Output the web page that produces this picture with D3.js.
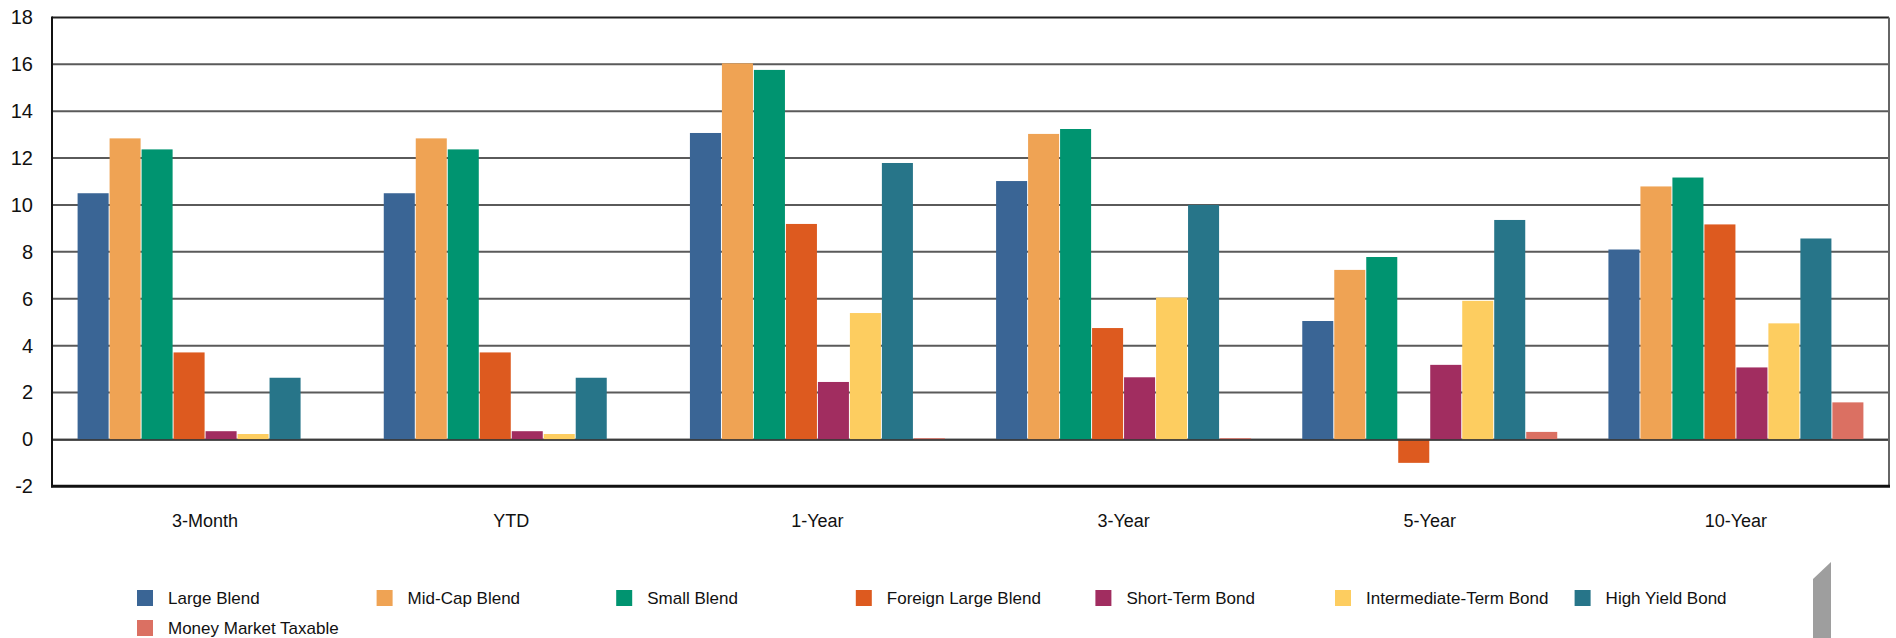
<!DOCTYPE html>
<html>
<head>
<meta charset="utf-8">
<script src="https://cdn.jsdelivr.net/npm/d3@7"></script>
<style>
  html, body { margin: 0; padding: 0; background: #fff; }
  svg text { font-family: "Liberation Sans", Arial, sans-serif; fill: #111; }
</style>
</head>
<body>
<div id="chart"></div>
<script>
const periods = ["3-Month", "YTD", "1-Year", "3-Year", "5-Year", "10-Year"];
const seriesNames = ["Large Blend", "Mid-Cap Blend", "Small Blend", "Foreign Large Blend",
  "Short-Term Bond", "Intermediate-Term Bond", "High Yield Bond", "Money Market Taxable"];
const colors = ["#3a6595", "#efa354", "#009470", "#dd5a1f", "#a12d60", "#fdcd60", "#277589", "#db7062"];

const largeBlend   = [10.50, 10.50, 13.07, 11.02, 5.05, 8.10];
const midCapBlend  = [12.84, 12.84, 16.04, 13.03, 7.23, 10.79];
const smallBlend   = [12.37, 12.37, 15.76, 13.24, 7.78, 11.17];
const foreignLarge = [3.71, 3.71, 9.19, 4.75, -1.00, 9.17];
const shortTerm    = [0.35, 0.35, 2.45, 2.65, 3.18, 3.07];
const interTerm    = [0.23, 0.23, 5.39, 6.05, 5.91, 4.95];
const highYield    = [2.63, 2.63, 11.79, 10.00, 9.36, 8.57];
const moneyMarket  = [0, 0, 0.05, 0.05, 0.32, 1.58];
const yTicks = [-2, 0, 2, 4, 6, 8, 10, 12, 14, 16, 18];

const seriesValues = [largeBlend, midCapBlend, smallBlend, foreignLarge, shortTerm, interTerm, highYield, moneyMarket];

const fullWidth = 1896;
const fullHeight = 638;
const margin = { top: 17.4, right: 7, bottom: 638 - 486.3, left: 52 };

const svg = d3.select('#chart')
  .append('svg')
  .attr('width', fullWidth)
  .attr('height', fullHeight);

const x0 = d3.scaleBand()
  .domain(periods)
  .range([margin.left, fullWidth - margin.right]);

const x1 = d3.scaleBand()
  .domain(seriesNames)
  .range([0, x0.bandwidth()])
  .paddingInner(0.03)
  .paddingOuter(0.8);

const y = d3.scaleLinear()
  .domain([-2, 18])
  .range([fullHeight - margin.bottom, margin.top]);

// gridlines
svg.append('g')
  .selectAll('line')
  .data(yTicks.filter(t => t > -2 && t < 18))
  .join('line')
  .attr('x1', margin.left)
  .attr('x2', fullWidth - margin.right)
  .attr('y1', d => y(d))
  .attr('y2', d => y(d))
  .attr('stroke', '#5a5a5a')
  .attr('stroke-width', 2);

// y axis labels
const yAxis = d3.axisLeft(y).tickValues(yTicks).tickFormat(d => String(d)).tickSize(0).tickPadding(19);
svg.append('g')
  .attr('transform', `translate(${margin.left},0)`)
  .call(yAxis)
  .call(g => g.select('.domain').remove())
  .selectAll('text')
  .attr('font-size', 20)
  .attr('font-family', '"Liberation Sans", Arial, sans-serif')
  .attr('fill', '#111');

// bars
const rows = periods.map((p, i) => ({ period: p, values: seriesNames.map((s, j) => ({ name: s, value: seriesValues[j][i], color: colors[j] })) }));

svg.append('g')
  .selectAll('g')
  .data(rows)
  .join('g')
  .attr('transform', d => `translate(${x0(d.period)},0)`)
  .selectAll('rect')
  .data(d => d.values.filter(v => v.value !== 0))
  .join('rect')
  .attr('x', d => x1(d.name))
  .attr('width', x1.bandwidth())
  .attr('y', d => y(Math.max(0, d.value)))
  .attr('height', d => Math.max(1, Math.abs(y(d.value) - y(0))))
  .attr('fill', d => d.color);

// zero line
svg.append('line')
  .attr('x1', margin.left).attr('x2', fullWidth - margin.right)
  .attr('y1', y(0) + 0.5).attr('y2', y(0) + 0.5)
  .attr('stroke', '#333').attr('stroke-width', 1.5);

// frame
svg.append('line')
  .attr('x1', margin.left).attr('x2', fullWidth - margin.right)
  .attr('y1', y(18)).attr('y2', y(18))
  .attr('stroke', '#222').attr('stroke-width', 2);
svg.append('line')
  .attr('x1', fullWidth - margin.right).attr('x2', fullWidth - margin.right)
  .attr('y1', y(18)).attr('y2', y(-2))
  .attr('stroke', '#666').attr('stroke-width', 2);
svg.append('line')
  .attr('x1', margin.left - 1).attr('x2', fullWidth - margin.right + 1)
  .attr('y1', y(-2)).attr('y2', y(-2))
  .attr('stroke', '#111').attr('stroke-width', 3);
svg.append('line')
  .attr('x1', margin.left).attr('x2', margin.left)
  .attr('y1', y(18) - 1).attr('y2', y(-2) + 1)
  .attr('stroke', '#111').attr('stroke-width', 2);

// x axis labels
const xAxis = d3.axisBottom(x0).tickSize(0).tickPadding(28);
svg.append('g')
  .attr('transform', `translate(0,${y(-2)})`)
  .call(xAxis)
  .call(g => g.select('.domain').remove())
  .selectAll('text')
  .attr('font-size', 18)
  .attr('font-family', '"Liberation Sans", Arial, sans-serif')
  .attr('fill', '#111');

// legend
const legend = svg.append('g')
  .selectAll('g')
  .data(seriesNames)
  .join('g')
  .attr('transform', (d, i) => `translate(${137 + (i % 7) * 239.6},${590 + Math.floor(i / 7) * 30})`);

legend.append('rect')
  .attr('width', 16)
  .attr('height', 16)
  .attr('fill', (d, i) => colors[i]);

legend.append('text')
  .attr('x', 31)
  .attr('y', 8)
  .attr('dy', '0.36em')
  .attr('font-size', 17)
  .text(d => d);

// page-corner decoration
svg.append('path')
  .attr('d', 'M1813,579 L1831,562 L1831,638 L1813,638 Z')
  .attr('fill', '#9e9e9e');
</script>
</body>
</html>
